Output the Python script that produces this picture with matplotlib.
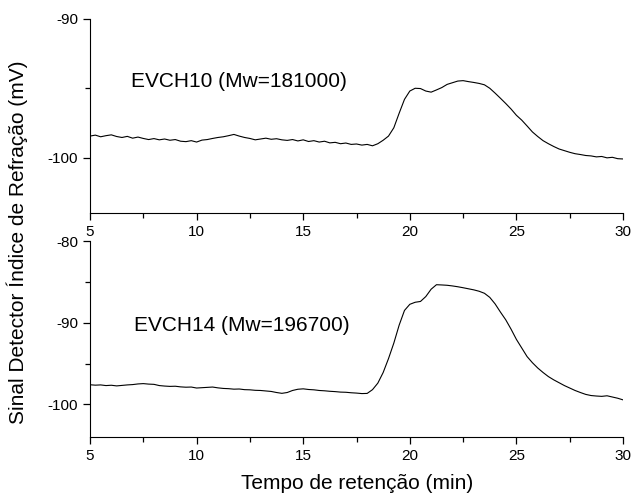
import matplotlib
matplotlib.use("Agg")
import matplotlib.pyplot as plt
from matplotlib.ticker import MultipleLocator

plt.rcParams["font.family"] = ["Liberation Sans", "DejaVu Sans"]
plt.rcParams["axes.unicode_minus"] = False

# retention time grid (min)
time_min = [
    5.0, 5.25, 5.5, 5.75, 6.0, 6.25, 6.5, 6.75, 7.0, 7.25, 7.5, 7.75, 8.0, 8.25, 8.5, 8.75,
    9.0, 9.25, 9.5, 9.75, 10.0, 10.25, 10.5, 10.75, 11.0, 11.25, 11.5, 11.75, 12.0, 12.25,
    12.5, 12.75, 13.0, 13.25, 13.5, 13.75, 14.0, 14.25, 14.5, 14.75, 15.0, 15.25, 15.5,
    15.75, 16.0, 16.25, 16.5, 16.75, 17.0, 17.25, 17.5, 17.75, 18.0, 18.25, 18.5, 18.75,
    19.0, 19.25, 19.5, 19.75, 20.0, 20.25, 20.5, 20.75, 21.0, 21.25, 21.5, 21.75, 22.0,
    22.25, 22.5, 22.75, 23.0, 23.25, 23.5, 23.75, 24.0, 24.25, 24.5, 24.75, 25.0, 25.25,
    25.5, 25.75, 26.0, 26.25, 26.5, 26.75, 27.0, 27.25, 27.5, 27.75, 28.0, 28.25, 28.5,
    28.75, 29.0, 29.25, 29.5, 29.75, 30.0,
]

# EVCH10 signal (mV)
evch10 = [
    -98.45, -98.38, -98.50, -98.42, -98.36, -98.48, -98.55, -98.47, -98.60, -98.52, -98.62,
    -98.70, -98.63, -98.72, -98.66, -98.75, -98.70, -98.82, -98.85, -98.78, -98.88, -98.74,
    -98.70, -98.62, -98.55, -98.50, -98.42, -98.33, -98.45, -98.55, -98.62, -98.72, -98.66,
    -98.60, -98.68, -98.64, -98.72, -98.76, -98.70, -98.80, -98.72, -98.84, -98.78, -98.88,
    -98.82, -98.94, -98.90, -99.00, -98.95, -99.05, -99.02, -99.10, -99.05, -99.15, -99.00,
    -98.75, -98.45, -97.85, -96.80, -95.80, -95.20, -95.00, -95.02, -95.20, -95.28, -95.12,
    -94.95, -94.72, -94.60, -94.48, -94.45, -94.52, -94.58, -94.65, -94.75, -95.00, -95.35,
    -95.72, -96.10, -96.50, -96.95, -97.30, -97.72, -98.15, -98.48, -98.78, -99.00, -99.20,
    -99.38, -99.50, -99.62, -99.72, -99.78, -99.85, -99.88, -99.95, -99.92, -100.02, -99.98,
    -100.08, -100.10,
]

# EVCH14 signal (mV)
evch14 = [
    -97.60, -97.65, -97.62, -97.70, -97.66, -97.74, -97.68, -97.62, -97.58, -97.50, -97.46,
    -97.52, -97.55, -97.70, -97.76, -97.80, -97.78, -97.86, -97.90, -97.88, -98.00, -97.96,
    -97.92, -97.88, -97.98, -98.05, -98.08, -98.14, -98.12, -98.20, -98.22, -98.28, -98.30,
    -98.36, -98.42, -98.55, -98.65, -98.55, -98.30, -98.15, -98.10, -98.18, -98.22, -98.30,
    -98.34, -98.40, -98.44, -98.50, -98.52, -98.58, -98.62, -98.68, -98.66, -98.20, -97.40,
    -96.10, -94.40, -92.50, -90.30, -88.50, -87.75, -87.50, -87.40, -86.80, -85.90, -85.35,
    -85.38, -85.42, -85.50, -85.60, -85.72, -85.85, -85.98, -86.15, -86.40, -86.90, -87.70,
    -88.70, -89.65, -90.80, -92.05, -93.10, -94.15, -94.90, -95.55, -96.10, -96.60, -97.00,
    -97.35, -97.70, -98.00, -98.30, -98.55, -98.78, -98.92, -98.98, -99.02, -98.95, -99.10,
    -99.25, -99.45,
]

labels = ["EVCH10 (Mw=181000)", "EVCH14 (Mw=196700)"]
y_limits = [(-104, -90), (-104, -80)]
label_pos = [(6.9, -94.5), (7.05, -90.4)]

fig = plt.figure(figsize=(6.32, 4.99), dpi=100)
ax_top = fig.add_axes([0.1424, 0.5731, 0.8434, 0.3889])
ax_bot = fig.add_axes([0.1424, 0.1242, 0.8434, 0.3928])

for ax, y, lab, ylim, pos in zip([ax_top, ax_bot], [evch10, evch14], labels, y_limits, label_pos):
    ax.plot(time_min, y, color="black", lw=0.8)
    ax.set_xlim(5, 30)
    ax.set_ylim(*ylim)
    ax.xaxis.set_major_locator(MultipleLocator(5))
    ax.xaxis.set_minor_locator(MultipleLocator(2.5))
    ax.yaxis.set_minor_locator(MultipleLocator(5))
    ax.set_yticks([t for t in range(-100, ylim[1] + 1, 10)])
    ax.spines["top"].set_visible(False)
    ax.spines["right"].set_visible(False)
    ax.tick_params(which="major", direction="out", length=5, width=0.9, labelsize=11)
    ax.tick_params(which="minor", direction="out", length=3.5, width=0.9)
    ax.text(pos[0], pos[1], lab, fontsize=15, va="center", ha="left")
    ax.patch.set_alpha(0)

fig.text(0.028, 0.515, "Sinal Detector Índice de Refração (mV)", rotation=90,
         fontsize=15, ha="center", va="center")
fig.text(0.565, 0.032, "Tempo de retenção (min)", fontsize=15, ha="center", va="center")

fig.savefig("out.png", dpi=100)
